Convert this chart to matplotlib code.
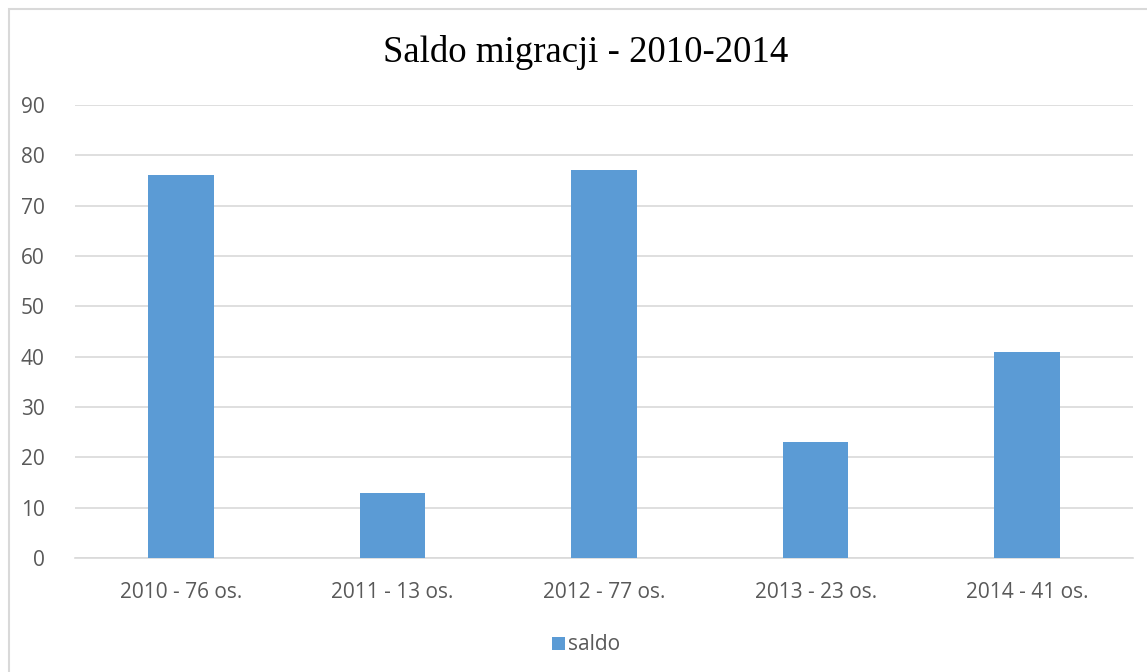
import matplotlib
matplotlib.use('Agg')
from matplotlib import pyplot as plt
from matplotlib.patches import Rectangle

categories = ['2010 - 76 os.', '2011 - 13 os.', '2012 - 77 os.', '2013 - 23 os.', '2014 - 41 os.']
saldo = [76, 13, 77, 23, 41]
y_ticks = [0, 10, 20, 30, 40, 50, 60, 70, 80, 90]

fig = plt.figure(figsize=(11.47, 6.72), dpi=100)
ax = fig.add_axes([75 / 1147, 1 - 558 / 672, 1058 / 1147, 453 / 672])

# chart border (runs off the right and bottom edges)
fig.patches.append(Rectangle((9 / 1147, -0.05), 1.2, 1 - 9 / 672 + 0.05,
                             transform=fig.transFigure, fill=False,
                             edgecolor='#D9D9D9', linewidth=1.5))

x = list(range(len(categories)))
ax.bar(x, saldo, width=0.31, color='#5B9BD5', label='saldo', zorder=3)

ax.set_xlim(-0.5, len(categories) - 0.5)
ax.set_ylim(0, 90)
ax.set_yticks(y_ticks)
ax.set_xticks(x)
ax.set_xticklabels(categories)
ax.grid(axis='y', color='#D9D9D9', linewidth=1.2, zorder=0)
for s in ['top', 'right', 'left']:
    ax.spines[s].set_visible(False)
ax.spines['bottom'].set_color('#D9D9D9')
ax.spines['bottom'].set_linewidth(1.2)
ax.tick_params(axis='both', length=0, labelsize=15, labelcolor='#595959')
ax.tick_params(axis='x', pad=17)
ax.tick_params(axis='y', pad=22)
for lbl in ax.get_xticklabels() + ax.get_yticklabels():
    lbl.set_fontfamily('Open Sans')

fig.text(586 / 1147, 1 - 52 / 672, 'Saldo migracji - 2010-2014', ha='center',
         va='center', fontsize=26.5, family='Liberation Serif', color='black')

leg = fig.legend(loc='center', bbox_to_anchor=(586 / 1147, 1 - 645 / 672),
                 frameon=False, handlelength=0.6, handleheight=0.6,
                 handletextpad=0.15,
                 prop={'family': 'Open Sans', 'size': 15})
for t in leg.get_texts():
    t.set_color('#595959')

plt.savefig('out.png', dpi=100)
